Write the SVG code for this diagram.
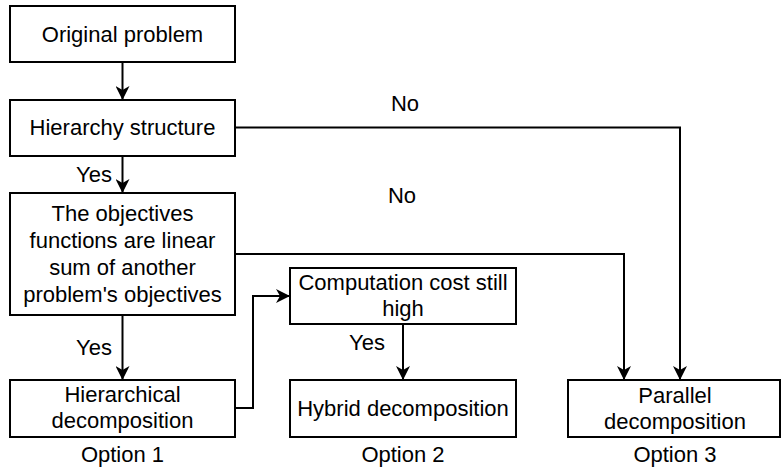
<svg xmlns="http://www.w3.org/2000/svg" width="782" height="471" viewBox="0 0 782 471">
  <style>
    .box { fill: #ffffff; stroke: #000000; stroke-width: 2; }
    .edge { fill: none; stroke: #000000; stroke-width: 2; }
    text { font-family: "Liberation Sans", Arial, sans-serif; font-size: 22px; fill: #000000; text-anchor: middle; }
  </style>
  <defs>
    <marker id="arrow" viewBox="0 0 14 14" refX="13" refY="7" markerWidth="14" markerHeight="14" markerUnits="userSpaceOnUse" orient="auto">
      <path d="M0,0 L14,7 L0,14 L4,7 Z" fill="#000000"/>
    </marker>
  </defs>
  <rect width="782" height="471" fill="#ffffff"/>

  <g id="connectors">
    <path class="edge" d="M122.5,62 V99" marker-end="url(#arrow)"/>
    <path class="edge" d="M122.5,156 V192" marker-end="url(#arrow)"/>
    <path class="edge" d="M122.5,316 V379" marker-end="url(#arrow)"/>
    <path class="edge" d="M403,324 V379" marker-end="url(#arrow)"/>
    <path class="edge" d="M235,408 H253 V296 H289" marker-end="url(#arrow)"/>
    <path class="edge" d="M235,127.5 H680 V379" marker-end="url(#arrow)"/>
    <path class="edge" d="M235,254 H624 V379" marker-end="url(#arrow)"/>
  </g>

  <g id="labels">
    <text x="94" y="182">Yes</text>
    <text x="94" y="355">Yes</text>
    <text x="367" y="350">Yes</text>
    <text x="405" y="111">No</text>
    <text x="402" y="203">No</text>
    <text x="122.5" y="462">Option 1</text>
    <text x="403" y="462">Option 2</text>
    <text x="675" y="462">Option 3</text>
  </g>

  <g id="original-problem">
    <rect class="box" x="10" y="6" width="225" height="56"/>
    <text x="122.5" y="42">Original problem</text>
  </g>
  <g id="hierarchy-structure">
    <rect class="box" x="10" y="100" width="225" height="56"/>
    <text x="122.5" y="135">Hierarchy structure</text>
  </g>
  <g id="linear-sum-check">
    <rect class="box" x="10" y="193" width="225" height="122"/>
    <text x="122.5" y="221">The objectives</text>
    <text x="122.5" y="248">functions are linear</text>
    <text x="122.5" y="275">sum of another</text>
    <text x="122.5" y="302">problem's objectives</text>
  </g>
  <g id="hierarchical-decomposition">
    <rect class="box" x="10" y="380" width="225" height="57"/>
    <text x="122.5" y="402">Hierarchical</text>
    <text x="122.5" y="428">decomposition</text>
  </g>
  <g id="computation-cost">
    <rect class="box" x="290" y="268" width="226" height="56"/>
    <text x="403" y="290">Computation cost still</text>
    <text x="403" y="316">high</text>
  </g>
  <g id="hybrid-decomposition">
    <rect class="box" x="290" y="380" width="226" height="57"/>
    <text x="403" y="416">Hybrid decomposition</text>
  </g>
  <g id="parallel-decomposition">
    <rect class="box" x="568" y="380" width="212" height="57"/>
    <text x="675" y="403">Parallel</text>
    <text x="675" y="429">decomposition</text>
  </g>
</svg>
